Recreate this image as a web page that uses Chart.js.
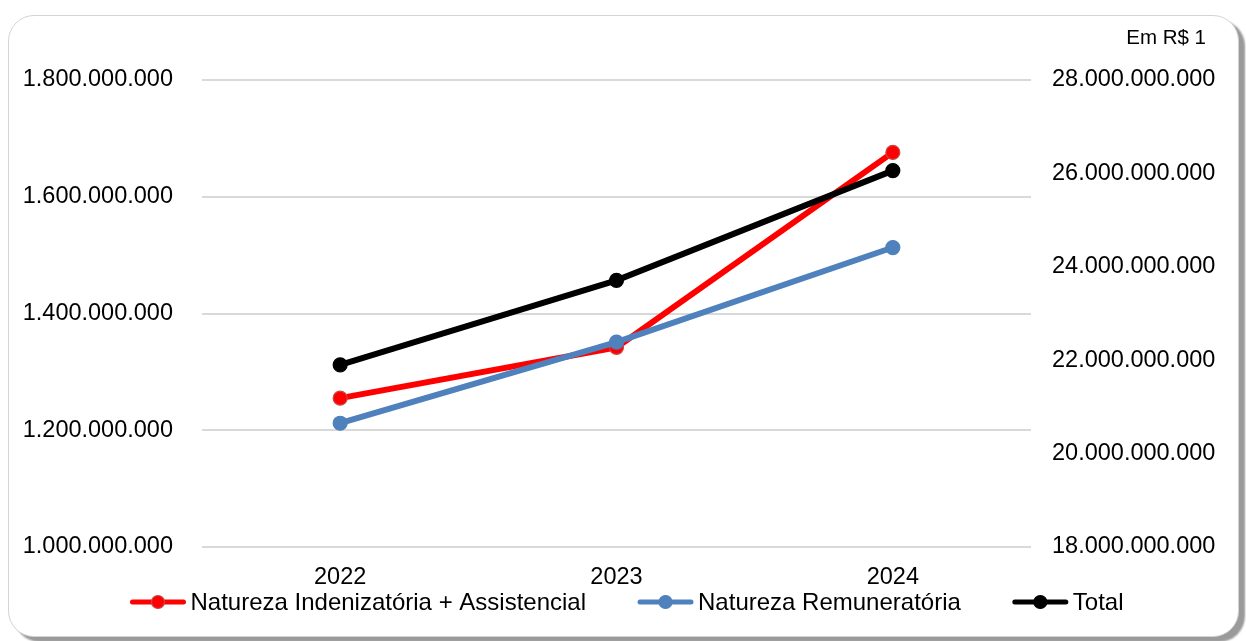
<!DOCTYPE html>
<html lang="pt-BR">
<head>
<meta charset="utf-8">
<title>Despesas por natureza 2022-2024</title>
<script src="https://cdn.jsdelivr.net/npm/chart.js@4/dist/chart.umd.min.js"></script>
<style>
  html, body { margin: 0; padding: 0; background: #fff; }
  body { width: 1246px; height: 641px; position: relative; overflow: hidden; }
  .frame {
    position: absolute; left: 8px; top: 15px; width: 1229px; height: 620px;
    border: 1px solid #d4d4d4; border-radius: 26px;
    box-shadow: 6px 5px 2px #9a9a9a;
    background: #fff;
  }
  #chartLine { position: absolute; left: 0; top: 0; }
</style>
</head>
<body>
<div class="frame"></div>
<canvas id="chartLine" width="1246" height="641"></canvas>
<script>
const years = ["2022", "2023", "2024"];
const indenizatoria = [1255000000, 1342000000, 1676000000];
const remuneratoria = [1212000000, 1351000000, 1513000000];
const total = [21900000000, 23710000000, 26060000000];

const leftTicks = { min: 1000000000, max: 1800000000, step: 200000000 };
const rightTicks = { min: 18000000000, max: 28000000000, step: 2000000000 };

const unitNote = "Em R$ 1";

// 1.800.000.000 style
const formatBR = value => String(Math.round(value)).replace(/\B(?=(\d{3})+(?!\d))/g, ".");

Chart.defaults.font.family = "'Liberation Sans', Arial, sans-serif";
Chart.defaults.color = "#000";

// "Em R$ 1" above the right axis
const unitNotePlugin = {
  id: "unitNote",
  afterDraw(chart) {
    const { ctx, chartArea } = chart;
    ctx.save();
    ctx.font = "20.5px 'Liberation Sans', Arial, sans-serif";
    ctx.fillStyle = "#000";
    ctx.textAlign = "right";
    ctx.textBaseline = "middle";
    ctx.fillText(unitNote, chart.width - 40, chartArea.top - 42);
    ctx.restore();
  },
};

// excel-like legend: short line with a dot, then the series name
const lineLegendPlugin = {
  id: "lineLegend",
  afterDraw(chart) {
    const { ctx } = chart;
    const markerLen = 55;
    const textGap = 5;
    const itemGap = 52;
    const y = chart.chartArea.bottom + 55;

    ctx.save();
    ctx.font = "24px 'Liberation Sans', Arial, sans-serif";
    ctx.textBaseline = "middle";
    const items = chart.data.datasets.map(ds => ({
      ds,
      width: markerLen + textGap + ctx.measureText(ds.label).width,
    }));
    const rowWidth =
      items.reduce((sum, it) => sum + it.width, 0) + itemGap * (items.length - 1);
    let x = chart.width / 2 + 4 - rowWidth / 2;

    items.forEach(({ ds, width }) => {
      ctx.strokeStyle = ds.borderColor;
      ctx.lineWidth = 5;
      ctx.lineCap = "round";
      ctx.beginPath();
      ctx.moveTo(x + 2, y);
      ctx.lineTo(x + markerLen - 2, y);
      ctx.stroke();

      ctx.beginPath();
      ctx.arc(x + markerLen / 2, y, 6.5, 0, Math.PI * 2);
      ctx.fillStyle = ds.backgroundColor;
      ctx.fill();
      ctx.lineWidth = 1.2;
      ctx.strokeStyle = ds.pointBorderColor;
      ctx.stroke();

      ctx.fillStyle = "#000";
      ctx.textAlign = "left";
      ctx.fillText(ds.label, x + markerLen + textGap, y + 1);
      x += width + itemGap;
    });
    ctx.restore();
  },
};

const ctx = document.getElementById("chartLine").getContext("2d");

const seriesChart = new Chart(ctx, {
  type: "line",
  data: {
    labels: years,
    datasets: [
      {
        label: "Natureza Indenizatória + Assistencial",
        data: indenizatoria,
        yAxisID: "y",
        borderColor: "#ff0000",
        backgroundColor: "#ff0000",
        pointBorderColor: "#c84848",
        order: 3,
      },
      {
        label: "Natureza Remuneratória",
        data: remuneratoria,
        yAxisID: "y",
        borderColor: "#4f81bd",
        backgroundColor: "#4f81bd",
        pointBorderColor: "#4f81bd",
        order: 2,
      },
      {
        label: "Total",
        data: total,
        yAxisID: "y1",
        borderColor: "#000000",
        backgroundColor: "#000000",
        pointBorderColor: "#000000",
        order: 1,
      },
    ],
  },
  options: {
    responsive: false,
    animation: false,
    layout: { padding: { top: 80, right: 0, bottom: 49, left: 0 } },
    elements: {
      line: { borderWidth: 6, tension: 0 },
      point: { radius: 7, borderWidth: 1.2, hoverRadius: 7 },
    },
    scales: {
      x: {
        offset: true,
        grid: { display: false, drawTicks: false },
        border: { display: false },
        ticks: { font: { size: 23.5 }, padding: 16 },
        afterFit: scale => { scale.height = 45; },
      },
      y: {
        position: "left",
        min: leftTicks.min,
        max: leftTicks.max,
        grid: { color: "#d9d9d9", lineWidth: 2, drawTicks: false },
        border: { display: false },
        ticks: {
          stepSize: leftTicks.step,
          font: { size: 23.5 },
          padding: 29,
          callback: value => formatBR(value),
        },
        afterFit: scale => { scale.width = 202; },
      },
      y1: {
        position: "right",
        min: rightTicks.min,
        max: rightTicks.max,
        grid: { display: false, drawTicks: false },
        border: { display: false },
        ticks: {
          stepSize: rightTicks.step,
          font: { size: 23.5 },
          padding: 21,
          callback: value => formatBR(value),
        },
        afterFit: scale => { scale.width = 215; },
      },
    },
    plugins: {
      title: { display: false },
      legend: { display: false },
      tooltip: { enabled: false },
    },
  },
  plugins: [unitNotePlugin, lineLegendPlugin],
});
</script>
</body>
</html>
